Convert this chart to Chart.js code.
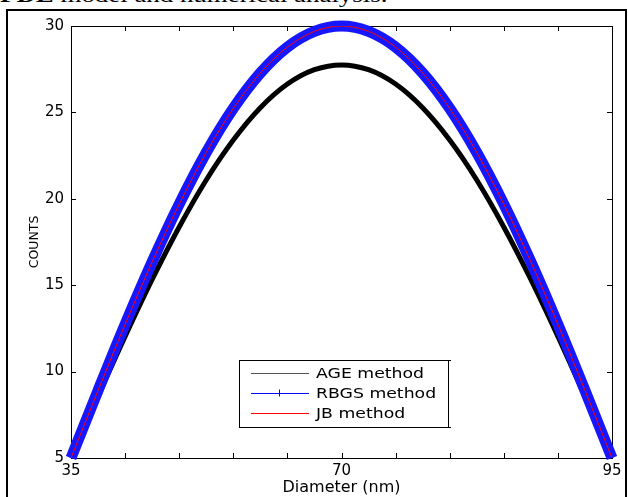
<!DOCTYPE html>
<html lang="en">
<head>
  <meta charset="UTF-8">
  <title>Diameter vs counts</title>
  <script src="https://cdn.jsdelivr.net/npm/chart.js"></script>
  <style>
    body {
      margin: 0;
      width: 628px;
      height: 497px;
      overflow: hidden;
      background: #fff;
      position: relative;
    }
    .caption {
      position: absolute;
      left: 0;
      top: -15px;
      font-family: "Liberation Serif", serif;
      font-size: 21px;
      line-height: 1;
      white-space: nowrap;
      transform-origin: 0 0;
      transform: scaleX(1.28);
    }
    .frame {
      position: absolute;
      left: 6px;
      top: 9px;
      width: 621px;
      height: 600px;
      box-sizing: border-box;
      border: 2px solid #000;
    }
    #chart {
      position: absolute;
      left: 0;
      top: 0;
    }
  </style>
</head>
<body>
  <div class="caption"><b>PDE</b> model and numerical analysis.</div>
  <div class="frame"></div>
  <canvas id="chart" width="628" height="497"></canvas>

  <script>
    // positions along the axis (0..100), labelled only at 35 / 70 / 95
    const positions = [0, 5, 10, 15, 20, 25, 30, 35, 40, 45, 50, 55, 60, 65, 70, 75, 80, 85, 90, 95, 100];
    const xTickLabels = ['35', '', '', '', '', '70', '', '', '', '', '95'];
    const yTickValues = [5, 10, 15, 20, 25, 30];

    const ageValues  = [5, 8.56, 12.03, 15.33, 18.37, 21.09, 23.40, 25.27, 26.64, 27.47, 27.75,
                        27.47, 26.64, 25.27, 23.40, 21.09, 18.37, 15.33, 12.03, 8.56, 5];
    const rbgsValues = [5, 8.91, 12.73, 16.35, 19.69, 22.68, 25.23, 27.28, 28.78, 29.69, 30,
                        29.69, 28.78, 27.28, 25.23, 22.68, 19.69, 16.35, 12.73, 8.91, 5];
    const jbValues   = [5, 8.91, 12.73, 16.35, 19.69, 22.68, 25.23, 27.28, 28.78, 29.69, 30,
                        29.69, 28.78, 27.28, 25.23, 22.68, 19.69, 16.35, 12.73, 8.91, 5];

    const toPoints = vals => positions.map((p, i) => ({ x: p, y: vals[i] }));

    // MATLAB style box with inward ticks
    const axesBox = {
      id: 'axesBox',
      beforeDatasetsDraw(chart) {
        const { ctx, chartArea: a, scales: { x, y } } = chart;
        ctx.save();
        ctx.strokeStyle = '#000';
        ctx.lineWidth = 1;
        ctx.strokeRect(Math.round(a.left) + 0.5, Math.round(a.top) + 0.5,
                       Math.round(a.right - a.left), Math.round(a.bottom - a.top));
        ctx.beginPath();
        x.ticks.forEach(t => {
          const px = Math.round(x.getPixelForValue(t.value)) + 0.5;
          ctx.moveTo(px, a.bottom); ctx.lineTo(px, a.bottom - 5);
          ctx.moveTo(px, a.top); ctx.lineTo(px, a.top + 5);
        });
        y.ticks.forEach(t => {
          const py = Math.round(y.getPixelForValue(t.value)) + 0.5;
          ctx.moveTo(a.left, py); ctx.lineTo(a.left + 5, py);
          ctx.moveTo(a.right, py); ctx.lineTo(a.right - 5, py);
        });
        ctx.stroke();
        ctx.restore();
      }
    };

    // legend box inside the plot
    const legendColors = ['#555555', '#0000ff', '#ff0000'];
    const insideLegend = {
      id: 'insideLegend',
      afterDatasetsDraw(chart) {
        const { ctx, chartArea: a } = chart;
        const left = a.left + 168, top = a.top + 334, w = 209, h = 67;
        ctx.save();
        ctx.fillStyle = '#fff';
        ctx.fillRect(left, top, w, h);
        ctx.strokeStyle = '#000';
        ctx.lineWidth = 1;
        ctx.strokeRect(left + 0.5, top + 0.5, w, h);
        ctx.beginPath();
        ctx.moveTo(left + w, top + 0.5); ctx.lineTo(left + w + 3, top + 0.5);
        ctx.moveTo(left + w, top + h + 0.5); ctx.lineTo(left + w + 3, top + h + 0.5);
        ctx.stroke();

        const rowY = [top + 13, top + 33, top + 53];
        chart.data.datasets.forEach((ds, i) => {
          const yy = rowY[i] + 0.5;
          ctx.lineWidth = 1;
          ctx.strokeStyle = legendColors[i];
          ctx.beginPath();
          ctx.moveTo(left + 12, yy);
          ctx.lineTo(left + 70, yy);
          if (i === 1) {
            ctx.moveTo(left + 40.5, yy - 4); ctx.lineTo(left + 40.5, yy + 3);
            ctx.moveTo(left + 37, yy); ctx.lineTo(left + 44, yy);
          }
          ctx.stroke();
          ctx.save();
          ctx.translate(left + 77, rowY[i]);
          ctx.scale(1.28, 1);
          ctx.fillStyle = '#000';
          ctx.font = '13.5px "DejaVu Sans"';
          ctx.textBaseline = 'middle';
          ctx.fillText(ds.label, 0, 1);
          ctx.restore();
        });
        ctx.restore();
      }
    };

    new Chart(document.getElementById('chart'), {
      type: 'line',
      data: {
        datasets: [
          {
            label: 'AGE method',
            data: toPoints(ageValues),
            borderColor: '#000',
            borderWidth: 5,
            pointRadius: 0,
            cubicInterpolationMode: 'monotone',
            clip: false,
            order: 2
          },
          {
            label: 'RBGS method',
            data: toPoints(rbgsValues),
            borderColor: 'rgb(22,22,255)',
            borderWidth: 11,
            pointRadius: 0,
            cubicInterpolationMode: 'monotone',
            clip: false,
            order: 1
          },
          {
            label: 'JB method',
            data: toPoints(jbValues),
            borderColor: '#ff0000',
            borderWidth: 1,
            pointRadius: 0,
            cubicInterpolationMode: 'monotone',
            order: 0
          }
        ]
      },
      options: {
        responsive: false,
        animation: false,
        devicePixelRatio: 1,
        layout: { padding: { top: 26, right: 16, left: 0, bottom: 0 } },
        plugins: {
          legend: { display: false },
          tooltip: { enabled: false }
        },
        scales: {
          x: {
            type: 'linear',
            min: 0,
            max: 100,
            grid: { display: false, drawTicks: false },
            border: { display: false },
            ticks: {
              stepSize: 10,
              autoSkip: false,
              maxRotation: 0,
              padding: 4,
              color: '#000',
              font: { family: 'DejaVu Sans', size: 15 },
              callback: (v, i) => xTickLabels[i]
            },
            title: {
              display: true,
              text: 'Diameter (nm)',
              color: '#000',
              font: { family: 'DejaVu Sans', size: 16 },
              padding: { top: 0, bottom: 0 }
            },
            afterFit: s => { s.height = 39; }
          },
          y: {
            min: 5,
            max: 30,
            grid: { display: false, drawTicks: false },
            border: { display: false },
            afterBuildTicks: s => { s.ticks = yTickValues.map(v => ({ value: v })); },
            ticks: {
              padding: 7,
              color: '#000',
              font: { family: 'DejaVu Sans', size: 15 }
            },
            title: {
              display: true,
              text: 'COUNTS',
              color: '#000',
              font: { family: 'DejaVu Sans', size: 12.5 },
              padding: { top: 27, bottom: 0 }
            },
            afterFit: s => { s.width = 71; }
          }
        }
      },
      plugins: [axesBox, insideLegend]
    });
  </script>
</body>
</html>
